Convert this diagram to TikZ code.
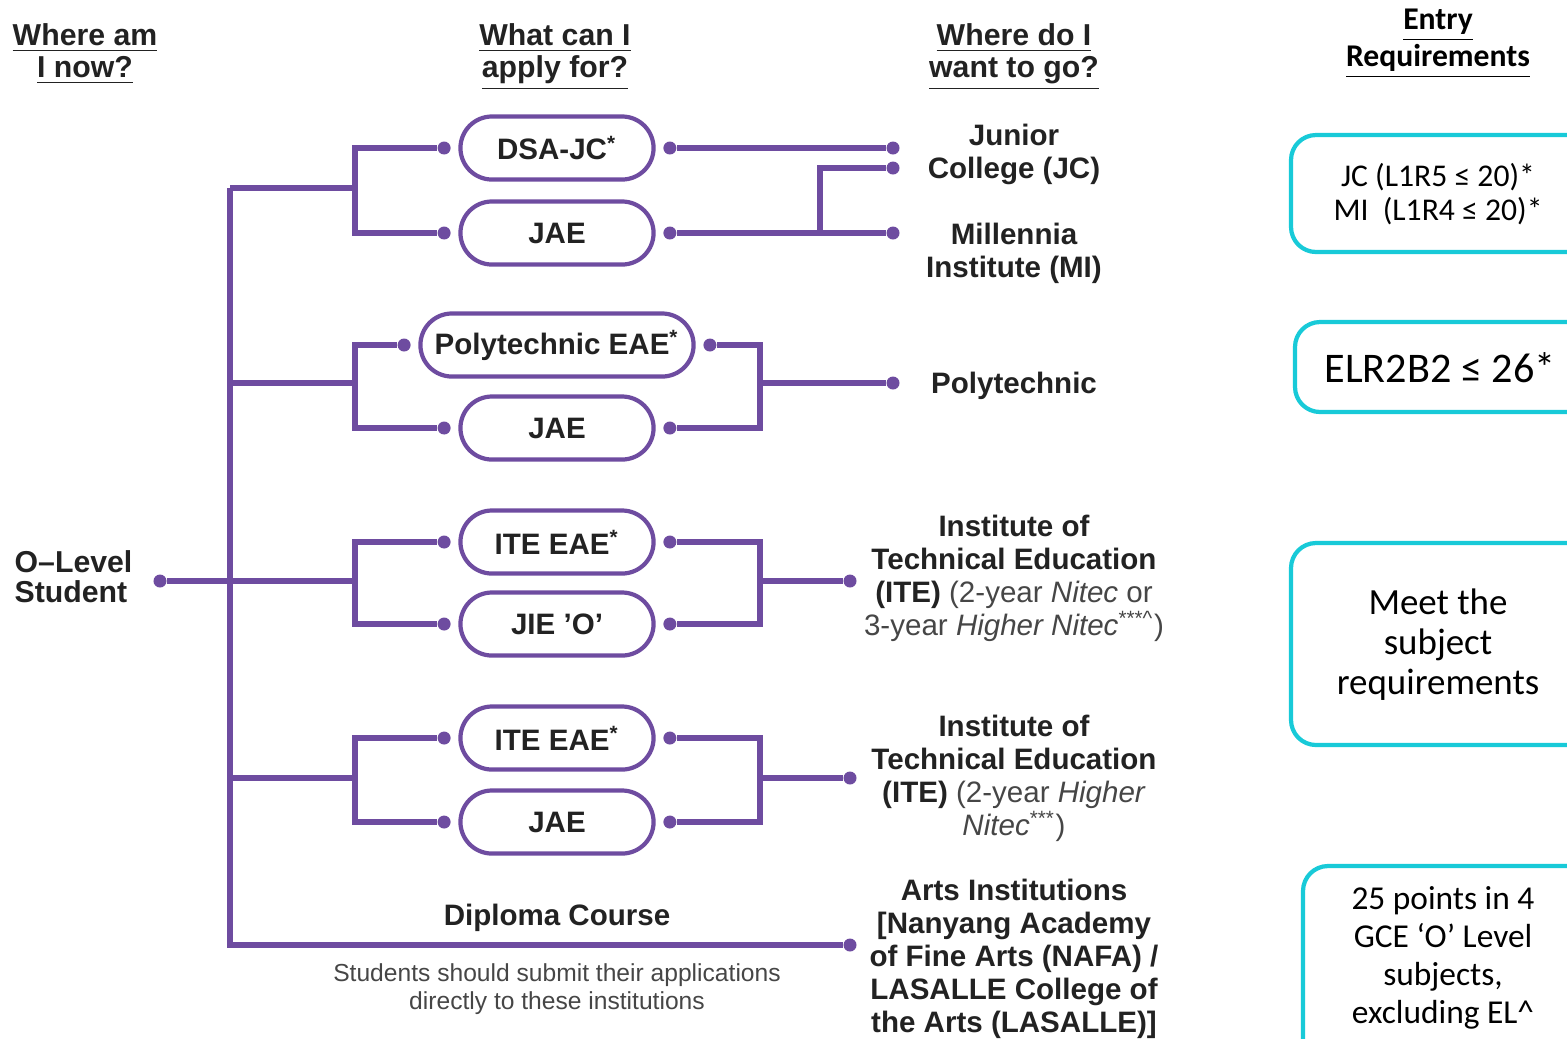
\documentclass[tikz,border=0pt]{standalone}
\usepackage{fontspec}
\setmainfont{Liberation Sans}
\newfontfamily\calib{Carlito}
\usetikzlibrary{shapes.misc, positioning}

\definecolor{routepurple}{RGB}{110,76,160}
\definecolor{reqcyan}{RGB}{24,202,216}
\definecolor{inkgray}{RGB}{34,34,34}
\definecolor{notegray}{RGB}{70,70,70}

\tikzset{
  wire/.style={draw=routepurple, line width=1.6pt},
  dot/.style={circle, fill=routepurple, inner sep=0pt, minimum size=0.13cm},
  choice/.style={rounded rectangle, draw=routepurple, line width=1.2pt, minimum width=1.93cm,
    minimum height=0.63cm, inner sep=0pt, text=inkgray, font=\fontsize{8.4}{9.4}\selectfont\bfseries},
  dest/.style={align=center, text=inkgray, inner sep=0pt, font=\fontsize{8.4}{9.4}\selectfont\bfseries},
  head/.style={align=center, text=inkgray, inner sep=0pt, font=\fontsize{8.6}{8.6}\selectfont\bfseries},
  note/.style={align=center, text=notegray, inner sep=0pt, font=\fontsize{7}{8}\selectfont},
  reqbox/.style={draw=reqcyan, line width=1.2pt, rounded corners=0.25cm},
  reqtext/.style={align=center, inner sep=0pt, font=\calib\fontsize{9}{9.7}\selectfont},
}

\begin{document}
\begin{tikzpicture}[x=0.01cm, y=-0.01cm]
  \clip (0,0) rectangle (1567,1038);

  % Column headings
  \node[head] (hNow) at (85,54) {\underline{Where am}\\[0.6pt]\underline{I now?}};
  \node[head] (hApply) at (555,57) {\underline{What can I}\\[0.6pt]\underline{apply for?}};
  \node[head] (hGo) at (1014,57) {\underline{Where do I}\\[0.6pt]\underline{want to go?}};
  \node[reqtext, font=\calib\fontsize{9}{10.5}\selectfont\bfseries] (hEntry) at (1438,44)
    {\underline{Entry}\\\underline{Requirements}};

  % Start
  \node[head, align=left, anchor=west, font=\fontsize{8.6}{8.6}\selectfont\bfseries] (olvl) at (14,577)
    {O--Level\\Student};
  \node[dot] (olvlD) at (160,581) {};

  % Application routes
  \node[choice] (dsajc) at (557,148) {DSA-JC\textsuperscript{*}};
  \node[choice] (jae1) at (557,233) {JAE};
  \node[choice, minimum width=2.73cm] (polyeae) at (557,345) {Polytechnic EAE\textsuperscript{*}};
  \node[choice] (jae2) at (557,428) {JAE};
  \node[choice] (iteeae1) at (557,542) {ITE EAE\textsuperscript{*}};
  \node[choice] (jieo) at (557,624) {JIE 'O'};
  \node[choice] (iteeae2) at (557,738) {ITE EAE\textsuperscript{*}};
  \node[choice] (jae3) at (557,822) {JAE};

  % Ports on either side
  \foreach \p in {dsajc, jae1, polyeae, jae2, iteeae1, jieo, iteeae2, jae3} {
    \node[dot, left=0.07cm of \p] (\p L) {};
    \node[dot, right=0.07cm of \p] (\p R) {};
  }

  % Destinations
  \node[dest] (jc) at (1014,154) {Junior\\College (JC)};
  \node[dest] (mi) at (1014,253) {Millennia\\Institute (MI)};
  \node[dest] (poly) at (1014,386) {Polytechnic};
  \node[dest] (ite1) at (1014,578) {Institute of\\Technical Education\\(ITE)
    {\mdseries\color{notegray}(2-year \textit{Nitec} or}\\
    {\mdseries\color{notegray}3-year \textit{Higher Nitec}\textsuperscript{***\textasciicircum})}};
  \node[dest] (ite2) at (1014,778) {Institute of\\Technical Education\\(ITE)
    {\mdseries\color{notegray}(2-year \textit{Higher}}\\
    {\mdseries\color{notegray}\textit{Nitec}\textsuperscript{***})}};
  \node[dest] (arts) at (1014,959) {Arts Institutions\\{[}Nanyang Academy\\of Fine Arts (NAFA) /\\
    LASALLE College of\\the Arts (LASALLE)]};
  \node[dest] (diploma) at (557,918) {Diploma Course};
  \node[note] (submit) at (557,989) {Students should submit their applications\\directly to these institutions};

  \node[dot] (jcD1) at (893,148) {};
  \node[dot] (jcD2) at (893,168) {};
  \node[dot] (miD) at (893,233) {};
  \node[dot] (polyD) at (893,383) {};
  \node[dot] (ite1D) at (850,581) {};
  \node[dot] (ite2D) at (850,778) {};
  \node[dot] (artsD) at (850,945) {};

  % Junctions
  \coordinate (br1) at (355,188);
  \coordinate (br2) at (355,383);
  \coordinate (br3) at (355,581);
  \coordinate (br4) at (355,778);
  \coordinate (rj1) at (820,233);
  \coordinate (rj2) at (760,383);
  \coordinate (rj3) at (760,581);
  \coordinate (rj4) at (760,778);

  % Left tree
  \draw[wire] (230,188) |- (artsD);
  \draw[wire] (230,188) -- (br1);
  \draw[wire] (230,383) -- (br2);
  \draw[wire] (olvlD) -- (br3);
  \draw[wire] (230,778) -- (br4);
  \draw[wire] (br1) |- (dsajcL);
  \draw[wire] (br1) |- (jae1L);
  \draw[wire] (br2) |- (polyeaeL);
  \draw[wire] (br2) |- (jae2L);
  \draw[wire] (br3) |- (iteeae1L);
  \draw[wire] (br3) |- (jieoL);
  \draw[wire] (br4) |- (iteeae2L);
  \draw[wire] (br4) |- (jae3L);

  % Right tree
  \draw[wire] (dsajcR) -- (jcD1);
  \draw[wire] (jae1R) -- (miD);
  \draw[wire] (rj1) |- (jcD2);
  \draw[wire] (polyeaeR) -| (rj2);
  \draw[wire] (jae2R) -| (rj2);
  \draw[wire] (rj2) -- (polyD);
  \draw[wire] (iteeae1R) -| (rj3);
  \draw[wire] (jieoR) -| (rj3);
  \draw[wire] (rj3) -- (ite1D);
  \draw[wire] (iteeae2R) -| (rj4);
  \draw[wire] (jae3R) -| (rj4);
  \draw[wire] (rj4) -- (ite2D);

  % Entry requirements
  \draw[reqbox] (1291,135) rectangle (1640,252);
  \node[reqtext] (reqJC) at (1438,194) {JC (L1R5 ≤ 20)*\\MI\ \ (L1R4 ≤ 20)*};
  \draw[reqbox] (1295,322) rectangle (1640,412);
  \node[reqtext, font=\calib\fontsize{12}{14}\selectfont] (reqPoly) at (1440,368) {ELR2B2 ≤ 26*};
  \draw[reqbox] (1291,543) rectangle (1640,745);
  \node[reqtext, font=\calib\fontsize{10.5}{11.4}\selectfont] (reqITE) at (1438,645)
    {Meet the\\subject\\requirements};
  \draw[reqbox] (1303,866) rectangle (1640,1100);
  \node[reqtext, font=\calib\fontsize{9.5}{10.8}\selectfont] (reqArts) at (1443,958)
    {25 points in 4\\GCE ‘O’ Level\\subjects,\\excluding EL\textasciicircum};
\end{tikzpicture}
\end{document}
